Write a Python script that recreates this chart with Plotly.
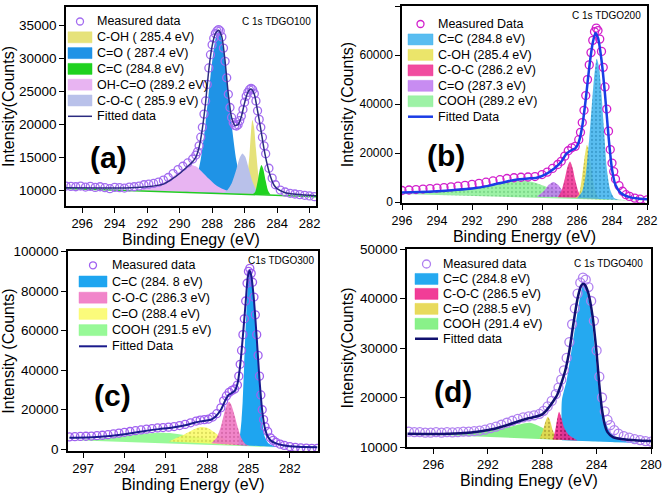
import plotly.graph_objects as go

FONT = "Arial, Liberation Sans, sans-serif"

# ---------------- (a) C 1s TDGO100 ----------------
a_meas = [(297.0, 10600), (296.7, 10550), (296.4, 10500), (296.1, 10600), (295.8, 10450), (295.5, 10550),
          (295.2, 10400), (294.9, 10500), (294.6, 10350), (294.3, 10200), (294.0, 10400), (293.7, 10350),
          (293.4, 10300), (293.1, 10450), (292.8, 10500), (292.5, 10600), (292.2, 10800), (291.9, 10900),
          (291.6, 11000), (291.3, 11200), (291.0, 11500), (290.7, 11900), (290.4, 12500), (290.1, 13100),
          (289.8, 13600), (289.5, 14100), (289.2, 14700), (289.0, 15300), (288.9, 15800), (288.8, 16700),
          (288.7, 18000), (288.6, 19500), (288.5, 21500), (288.4, 23500), (288.3, 26000), (288.2, 28500),
          (288.1, 30500), (288.0, 32000), (287.9, 33000), (287.8, 33700), (287.7, 34100), (287.6, 34300),
          (287.5, 34100), (287.4, 33200), (287.3, 31500), (287.2, 29500), (287.1, 27000), (287.0, 24500),
          (286.9, 22500), (286.8, 21000), (286.7, 20200), (286.6, 19800), (286.5, 19700), (286.4, 19900),
          (286.3, 20500), (286.2, 21200), (286.1, 22200), (286.0, 23300), (285.9, 24200), (285.8, 24800),
          (285.7, 25200), (285.6, 25400), (285.5, 25200), (285.4, 24600), (285.3, 23500), (285.2, 22000),
          (285.1, 20700), (285.0, 19500), (284.9, 18000), (284.8, 16700), (284.7, 15500), (284.5, 13300),
          (284.3, 11800), (284.1, 10800), (283.8, 10000), (283.5, 9700), (283.2, 9500), (282.9, 9400),
          (282.6, 9300), (282.3, 9200), (282.0, 9100), (281.7, 9000)]
a_fit = [(297.0, 10350), (295.0, 10300), (293.0, 10350), (292.0, 10500), (291.0, 10900), (290.5, 11600),
         (290.0, 12500), (289.5, 13600), (289.2, 14300), (289.0, 15000), (288.8, 16500), (288.6, 19300),
         (288.4, 23300), (288.2, 28300), (288.0, 31800), (287.8, 33700), (287.6, 34200), (287.4, 33200),
         (287.2, 29500), (287.0, 24500), (286.8, 21000), (286.6, 19800), (286.4, 19900), (286.2, 21100),
         (286.0, 23200), (285.8, 24800), (285.6, 25300), (285.4, 24500), (285.2, 22000), (285.0, 19200),
         (284.8, 16200), (284.6, 13800), (284.4, 12000), (284.2, 10800), (284.0, 10200), (283.5, 9600),
         (283.0, 9400), (282.0, 9200), (281.6, 9150)]
a_base = [(297.0, 10250), (281.6, 9000)]
a_coh = [(286.25, 9400), (286.0, 9900), (285.85, 11600), (285.7, 15300), (285.6, 18900), (285.52, 20600),
         (285.42, 19600), (285.3, 16200), (285.15, 12300), (285.0, 10200), (284.8, 9350)]
a_co = [(289.8, 9700), (289.4, 10000), (289.0, 11500), (288.7, 14650), (288.4, 20200), (288.1, 27250),
        (287.9, 31300), (287.75, 33300), (287.6, 34000), (287.45, 33200), (287.3, 31200), (287.1, 27100),
        (286.8, 20000), (286.5, 14400), (286.2, 11300), (285.8, 9900), (285.4, 9450)]
a_cc = [(285.5, 9350), (285.35, 9700), (285.2, 11200), (285.07, 13000), (284.96, 13800), (284.85, 13200),
        (284.7, 11400), (284.55, 9900), (284.4, 9300)]
a_ohco = [(293.0, 9950), (292.0, 10300), (291.2, 10900), (290.6, 11700), (290.1, 12600), (289.7, 13300),
          (289.35, 13800), (289.0, 13600), (288.6, 12700), (288.2, 11700), (287.8, 10800), (287.3, 10100),
          (286.8, 9700), (286.2, 9480)]
a_coc = [(287.4, 9500), (287.1, 9900), (286.8, 11000), (286.5, 13200), (286.3, 14900), (286.13, 15550),
         (285.95, 15000), (285.75, 13300), (285.5, 11200), (285.25, 9900), (285.0, 9400)]

# ---------------- (b) C 1s TDGO200 ----------------
b_meas = [(296.0, 4800), (295.6, 5000), (295.2, 5200), (294.8, 5400), (294.4, 5600), (294.0, 5800),
          (293.6, 6000), (293.2, 6300), (292.8, 6600), (292.4, 6900), (292.0, 7300), (291.6, 7700),
          (291.2, 8200), (290.8, 8700), (290.4, 9200), (290.0, 9700), (289.6, 10000), (289.2, 10200),
          (288.8, 10300), (288.4, 10500), (288.0, 11300), (287.7, 12300), (287.4, 13800), (287.1, 15400),
          (286.9, 16700), (286.7, 18800), (286.5, 21000), (286.3, 22200), (286.1, 22800), (285.9, 25500),
          (285.8, 28500), (285.7, 32500), (285.6, 37500), (285.5, 43500), (285.4, 50000), (285.3, 56000),
          (285.2, 61000), (285.1, 66000), (285.0, 69500), (284.9, 71000), (284.8, 70000), (284.7, 66500),
          (284.6, 61500), (284.5, 55000), (284.4, 47000), (284.3, 38000), (284.2, 29000), (284.1, 21500),
          (284.0, 16000), (283.9, 12500), (283.8, 9500), (283.6, 6800), (283.4, 4500), (283.2, 3100),
          (283.0, 2400), (282.7, 1700), (282.4, 1300), (282.0, 1000)]
b_fit = [(296.0, 4000), (295.0, 4200), (294.0, 4500), (293.0, 5000), (292.0, 5600), (291.0, 6800),
         (290.0, 8500), (289.3, 9400), (288.8, 9700), (288.3, 10000), (287.8, 11400), (287.3, 13800),
         (286.9, 16500), (286.6, 19800), (286.3, 21300), (286.1, 22000), (285.9, 24500), (285.7, 31000),
         (285.5, 42000), (285.3, 55000), (285.1, 65000), (284.95, 69000), (284.8, 67000), (284.6, 58000),
         (284.4, 44000), (284.2, 27000), (284.0, 13500), (283.8, 7000), (283.5, 3800), (283.0, 2100),
         (282.5, 1500), (282.0, 1200)]
b_cc = [(286.0, 1650), (285.7, 4500), (285.5, 11500), (285.3, 26000), (285.15, 40000), (285.0, 52500),
        (284.87, 58500), (284.75, 55500), (284.6, 44000), (284.45, 29000), (284.3, 14000), (284.1, 5000),
        (283.85, 1600), (283.5, 1000)]
b_coh = [(286.1, 1700), (285.9, 3000), (285.75, 8500), (285.6, 16500), (285.43, 23400), (285.25, 17500),
         (285.1, 9500), (284.9, 3500), (284.7, 1300), (284.5, 1100)]
b_coc = [(287.1, 2100), (286.9, 4500), (286.7, 9500), (286.55, 14300), (286.4, 16600), (286.25, 14000),
         (286.1, 9000), (285.9, 4000), (285.7, 1800)]
b_co = [(288.3, 2300), (287.9, 4500), (287.6, 7200), (287.35, 8300), (287.1, 7200), (286.8, 4500),
        (286.5, 2200)]
b_cooh = [(296.0, 3350), (294.5, 3900), (293.0, 4700), (292.0, 5600), (291.0, 6800), (290.2, 7900),
          (289.6, 8500), (289.1, 8800), (288.6, 8400), (288.1, 7300), (287.6, 6000), (287.0, 4500),
          (286.4, 3200), (285.6, 2200), (284.5, 1400), (283.5, 1000), (282.0, 550)]

# ---------------- (c) C1s TDGO300 ----------------
c_meas = [(298.0, 6300), (297.6, 6400), (297.2, 6500), (296.8, 6600), (296.4, 6700), (296.0, 6900),
          (295.6, 7100), (295.2, 7400), (294.8, 7800), (294.4, 8200), (294.0, 8600), (293.6, 9000),
          (293.2, 9400), (292.8, 9800), (292.4, 10200), (292.0, 10500), (291.6, 10800), (291.2, 11000),
          (290.8, 11200), (290.4, 11500), (290.0, 12000), (289.6, 12600), (289.2, 13400), (288.8, 14300),
          (288.5, 14800), (288.2, 15000), (287.9, 15300), (287.6, 16300), (287.3, 18000), (287.0, 21000),
          (286.8, 24500), (286.6, 27000), (286.4, 28800), (286.2, 29800), (286.0, 30500), (285.8, 32500),
          (285.7, 37000), (285.6, 43000), (285.5, 50000), (285.4, 58000), (285.3, 66000), (285.2, 75000),
          (285.1, 84000), (285.0, 90000), (284.9, 91500), (284.8, 89000), (284.7, 84500), (284.6, 77000),
          (284.5, 68000), (284.4, 58000), (284.3, 47500), (284.2, 37000), (284.1, 27500), (284.0, 20000),
          (283.9, 15000), (283.8, 11500), (283.6, 9000), (283.4, 5800), (283.2, 4500), (283.0, 3500),
          (282.7, 2600), (282.4, 2000), (282.0, 1400), (281.6, 1000), (281.2, 700), (280.8, 600),
          (280.4, 500), (280.0, 500)]
c_fit = [(298.0, 5800), (296.0, 6200), (294.0, 7600), (292.5, 9300), (291.5, 10200), (290.5, 11000),
         (289.5, 12300), (288.8, 13700), (288.3, 14300), (287.8, 14800), (287.4, 16500), (287.0, 20000),
         (286.7, 24500), (286.45, 27500), (286.2, 28500), (286.0, 29500), (285.8, 33000), (285.6, 42500),
         (285.4, 57500), (285.2, 74500), (285.05, 87000), (284.92, 90500), (284.8, 88000), (284.6, 75500),
         (284.4, 56500), (284.2, 35500), (284.0, 19500), (283.8, 10500), (283.6, 6500), (283.3, 4000),
         (283.0, 3000), (282.5, 2000), (282.0, 1500), (281.0, 1200), (280.0, 1000)]
c_cc = [(285.75, 2200), (285.6, 8000), (285.5, 15000), (285.42, 24000), (285.31, 42500), (285.16, 67800),
        (285.02, 84600), (284.9, 90500), (284.75, 86300), (284.58, 72800), (284.38, 52600), (284.19, 32400),
        (284.02, 17200), (283.85, 7100), (283.53, 2900), (282.9, 1200), (282.3, 900)]
c_coc = [(287.7, 3000), (287.3, 6000), (287.0, 11500), (286.75, 18500), (286.55, 22800), (286.4, 24000),
         (286.25, 22500), (286.0, 17000), (285.75, 10500), (285.5, 5500), (285.2, 2600), (284.9, 1700)]
c_co = [(290.8, 3900), (290.2, 5800), (289.6, 7800), (289.0, 10000), (288.5, 11300), (288.0, 10900),
        (287.5, 8800), (287.0, 6300), (286.5, 4300), (286.0, 2800), (285.5, 2000)]
c_cooh = [(298.1, 4650), (296.5, 5000), (295.0, 5700), (293.8, 6800), (292.8, 7800), (291.8, 8300),
          (290.8, 8200), (289.8, 7400), (288.8, 6200), (287.8, 4900), (286.8, 3700), (285.5, 2600),
          (284.0, 1600), (282.5, 900), (281.0, 500), (280.0, 300)]

# ---------------- (d) C 1s TDGO400 ----------------
d_meas = [(297.8, 13100), (297.4, 13000), (297.0, 13000), (296.6, 12900), (296.2, 12900), (295.8, 13000),
          (295.4, 12900), (295.0, 13000), (294.6, 12950), (294.2, 13000), (293.8, 13100), (293.4, 13100),
          (293.0, 13200), (292.6, 13300), (292.2, 13500), (291.8, 13800), (291.4, 14100), (291.0, 14500),
          (290.6, 14900), (290.2, 15300), (289.8, 15700), (289.4, 16000), (289.0, 16200), (288.6, 16400),
          (288.2, 16700), (287.9, 17300), (287.6, 18200), (287.3, 19300), (287.0, 20700), (286.8, 22000),
          (286.6, 23600), (286.4, 25500), (286.2, 28000), (286.0, 31200), (285.8, 34800), (285.6, 38000),
          (285.4, 41000), (285.2, 43200), (285.0, 44200), (284.8, 43800), (284.6, 42300), (284.4, 39500),
          (284.2, 35500), (284.0, 29500), (283.8, 24200), (283.6, 20000), (283.4, 17200), (283.2, 15500),
          (283.0, 14400), (282.7, 13400), (282.4, 12700), (282.0, 12200), (281.6, 11900), (281.2, 11600),
          (280.8, 11400), (280.4, 11200), (280.0, 11100)]
d_fit = [(297.9, 12700), (296.0, 12650), (294.0, 12800), (292.5, 13200), (291.5, 13700), (290.5, 14500),
         (289.5, 15400), (289.0, 15800), (288.5, 16100), (288.0, 16600), (287.6, 17700), (287.2, 19200),
         (286.9, 20500), (286.6, 22800), (286.3, 25500), (286.0, 29500), (285.7, 35000), (285.4, 40000),
         (285.15, 42500), (285.0, 43000), (284.85, 42700), (284.6, 41000), (284.3, 36500), (284.0, 29000),
         (283.8, 22500), (283.6, 17500), (283.4, 14500), (283.2, 13000), (282.8, 12000), (282.2, 11600),
         (281.0, 11300), (280.0, 11200)]
d_cc = [(286.55, 11340), (286.55, 19500), (286.2, 23500), (285.8, 30300), (285.45, 36400), (285.2, 40500),
        (285.0, 42700), (284.8, 42200), (284.6, 40000), (284.4, 37000), (284.1, 29000), (283.75, 20500),
        (283.4, 15500), (283.0, 13000), (282.5, 11900), (282.0, 11300), (281.0, 10800)]
d_coc = [(287.2, 11500), (287.0, 14000), (286.85, 16300), (286.76, 17100), (286.6, 16000), (286.4, 14000),
         (286.2, 13000), (286.0, 12300), (285.7, 11800), (285.4, 11300)]
d_co = [(288.2, 11700), (287.95, 13300), (287.75, 15200), (287.58, 16100), (287.42, 15300), (287.25, 13600),
        (287.05, 12300), (286.8, 11400)]
d_cooh = [(297.9, 12700), (296.0, 12600), (294.0, 12800), (292.5, 13100), (291.5, 13500), (290.5, 14000),
          (289.6, 14600), (288.9, 14900), (288.2, 14200), (287.5, 13200), (286.8, 12300), (286.0, 11700),
          (285.0, 11300), (284.0, 11150), (282.5, 10950), (281.0, 10800), (280.0, 10700)]

W, H = 662, 496


def unzip(pairs):
    return [p[0] for p in pairs], [p[1] for p in pairs]


fig = go.Figure()
shapes = []
ann = []


def px(x, y):
    return x / W, 1 - y / H


def add_comp(pairs, name, color, n, dots=None):
    e, i = unzip(pairs)
    sfx = "" if n == 1 else str(n)
    kw = {}
    if dots:
        kw["fillpattern"] = dict(shape=".", fgcolor=dots, size=4, solidity=0.25, fillmode="overlay")
    fig.add_trace(go.Scatter(x=e, y=i, mode="lines", fill="toself", fillcolor=color,
                             line=dict(width=0, shape="spline", smoothing=0.7, color=color),
                             name=name, xaxis="x" + sfx, yaxis="y" + sfx, hoverinfo="skip", **kw))


def add_meas(pairs, name, color, n, size):
    e, i = unzip(pairs)
    sfx = "" if n == 1 else str(n)
    fig.add_trace(go.Scatter(x=e, y=i, mode="markers", name=name,
                             marker=dict(symbol="circle-open", size=size, color=color, line=dict(width=1.3)),
                             xaxis="x" + sfx, yaxis="y" + sfx))


def add_fit(pairs, name, color, n, width):
    e, i = unzip(pairs)
    sfx = "" if n == 1 else str(n)
    fig.add_trace(go.Scatter(x=e, y=i, mode="lines", name=name,
                             line=dict(color=color, width=width, shape="spline", smoothing=0.6),
                             xaxis="x" + sfx, yaxis="y" + sfx))


def key(entries, sx0, sx1, tx, y0, dy):
    # hand-made legend: the reference rows are tighter than plotly's legend allows
    for k, (kind, label, color, w) in enumerate(entries):
        yc = y0 + k * dy
        if kind == "marker":
            cx = (sx0 + sx1) / 2
            xa, ya = px(cx - w / 2, yc - w / 2)
            xb, yb = px(cx + w / 2, yc + w / 2)
            shapes.append(dict(type="circle", xref="paper", yref="paper", x0=xa, x1=xb, y0=yb, y1=ya,
                               line=dict(color=color, width=1.3)))
        elif kind == "fill":
            xa, ya = px(sx0, yc - 5.5)
            xb, yb = px(sx1, yc + 5.5)
            shapes.append(dict(type="rect", xref="paper", yref="paper", x0=xa, x1=xb, y0=yb, y1=ya,
                               fillcolor=color, line=dict(color=color, width=0.5)))
        else:
            xa, ya = px(sx0, yc)
            xb, _ = px(sx1, yc)
            shapes.append(dict(type="line", xref="paper", yref="paper", x0=xa, x1=xb, y0=ya, y1=ya,
                               line=dict(color=color, width=w)))
        lx, ly = px(tx, yc)
        ann.append(dict(text=label, x=lx, y=ly, xref="paper", yref="paper", xanchor="left",
                        yanchor="middle", showarrow=False, font=dict(size=12.5, color="black", family=FONT)))


# (a)
A_CO, A_OHCO, A_COH, A_COC, A_CC = "#1f93e6", "#e8b4f2", "#e6e27a", "#b9c1ea", "#1fd21f"
add_comp(a_co, "C=O ( 287.4 eV)", A_CO, 1)
add_comp(a_ohco, "OH-C=O (289.2 eV)", A_OHCO, 1)
add_comp(a_coh, "C-OH ( 285.4 eV)", A_COH, 1)
add_comp(a_coc, "C-O-C ( 285.9 eV)", A_COC, 1)
add_comp(a_cc, "C=C (284.8 eV)", A_CC, 1)
be, bi = unzip(a_base)
fig.add_trace(go.Scatter(x=be, y=bi, mode="lines", line=dict(color="#22cc22", width=1.5),
                         xaxis="x", yaxis="y", hoverinfo="skip"))
add_meas(a_meas, "Measured data", "#a36cf0", 1, 8)
add_fit(a_fit, "Fitted data", "#2b2b80", 1, 1.5)
key([("marker", "Measured data", "#a36cf0", 7), ("fill", "C-OH ( 285.4 eV)", A_COH, 0),
     ("fill", "C=O ( 287.4 eV)", A_CO, 0), ("fill", "C=C (284.8 eV)", A_CC, 0),
     ("fill", "OH-C=O (289.2 eV)", A_OHCO, 0), ("fill", "C-O-C ( 285.9 eV)", A_COC, 0),
     ("line", "Fitted data", "#2b2b80", 1.5)], 68, 92, 95, 21.5, 15.8)

# (b)
B_COOH, B_CO, B_COC, B_COH, B_CC = ("rgba(140,240,150,0.85)", "rgba(190,120,240,0.85)", "rgba(240,55,150,0.9)",
                                    "rgba(232,224,80,0.85)", "rgba(60,178,238,0.85)")
add_comp(b_cooh, "COOH (289.2 eV)", B_COOH, 2, "#60c070")
add_comp(b_co, "C=O (287.3 eV)", B_CO, 2, "#8050b0")
add_comp(b_coc, "C-O-C (286.2 eV)", B_COC, 2, "#b02070")
add_comp(b_coh, "C-OH (285.4 eV)", B_COH, 2, "#a09a30")
add_comp(b_cc, "C=C (284.8 eV)", B_CC, 2, "#2080b0")
add_meas(b_meas, "Measured Data", "#d21ecc", 2, 8)
add_fit(b_fit, "Fitted Data", "#1a3ce6", 2, 2.5)
key([("marker", "Measured Data", "#d21ecc", 7), ("fill", "C=C (284.8 eV)", B_CC, 0),
     ("fill", "C-OH (285.4 eV)", B_COH, 0), ("fill", "C-O-C (286.2 eV)", B_COC, 0),
     ("fill", "C=O (287.3 eV)", B_CO, 0), ("fill", "COOH (289.2 eV)", B_COOH, 0),
     ("line", "Fitted Data", "#1a3ce6", 2.5)], 408, 433, 436, 24, 15.45)

# (c)
C_COOH, C_CO, C_CC, C_COC = "rgba(140,248,140,0.9)", "rgba(250,250,100,0.85)", "#1ea5f0", "rgba(240,120,196,0.9)"
add_comp(c_cooh, "COOH (291.5 eV)", C_COOH, 3)
add_comp(c_co, "C=O (288.4 eV)", C_CO, 3, "#c0c040")
add_comp(c_cc, "C=C (284. 8 eV)", C_CC, 3)
add_comp(c_coc, "C-O-C (286.3 eV)", C_COC, 3, "#c05090")
add_meas(c_meas, "Measured data", "#a060f0", 3, 8)
add_fit(c_fit, "Fitted Data", "#1a1a8c", 3, 2)
key([("marker", "Measured data", "#a060f0", 7), ("fill", "C=C (284. 8 eV)", C_CC, 0),
     ("fill", "C-O-C (286.3 eV)", C_COC, 0), ("fill", "C=O (288.4 eV)", C_CO, 0),
     ("fill", "COOH (291.5 eV)", C_COOH, 0), ("line", "Fitted Data", "#1a1a8c", 2)], 79, 107, 110, 265.3, 16.2)

# (d)
D_COOH, D_CO, D_CC, D_COC = "rgba(124,240,124,0.9)", "rgba(230,214,74,0.9)", "#25a9f0", "rgba(240,40,140,0.9)"
add_comp(d_cooh, "COOH (291.4 eV)", D_COOH, 4)
add_comp(d_co, "C=O (288.5 eV)", D_CO, 4, "#908020")
add_comp(d_cc, "C=C (284.8 eV)", D_CC, 4)
add_comp(d_coc, "C-O-C (286.5 eV)", D_COC, 4, "#700040")
add_meas(d_meas, "Measured data", "#b080f0", 4, 9)
add_fit(d_fit, "Fitted data", "#10106e", 4, 2.5)
key([("marker", "Measured data", "#b080f0", 8), ("fill", "C=C (284.8 eV)", D_CC, 0),
     ("fill", "C-O-C (286.5 eV)", D_COC, 0), ("fill", "C=O (288.5 eV)", D_CO, 0),
     ("fill", "COOH (291.4 eV)", D_COOH, 0), ("line", "Fitted data", "#10106e", 2.5)], 415, 438, 441, 264, 14.95)


def xd(l, r):
    return [l / W, r / W]


def yd(t, b):
    return [1 - b / H, 1 - t / H]


def axis(domain, rng, ticks, title, standoff, anchor, tsize=13):
    return dict(domain=domain, range=rng, tickvals=ticks, anchor=anchor, automargin=False,
                showline=True, linecolor="black", linewidth=1.5, mirror=True,
                ticks="outside", ticklen=5, tickwidth=1.3, tickcolor="black", tickformat="d",
                showgrid=False, zeroline=False,
                tickfont=dict(size=tsize, color="black", family=FONT),
                title=dict(text=title, standoff=standoff, font=dict(size=16, color="black", family=FONT)))


layout = dict(width=W, height=H, margin=dict(l=0, r=0, t=0, b=0),
              paper_bgcolor="white", plot_bgcolor="white", font=dict(family=FONT, color="black"),
              showlegend=False)

layout["xaxis"] = axis(xd(66, 316), [297.0, 281.6], [296, 294, 292, 290, 288, 286, 284, 282], "Binding Enegy (eV)", 0, "y")
layout["yaxis"] = axis(yd(7, 206), [7580, 37730], [10000, 15000, 20000, 25000, 30000, 35000], "Intensity(Counts)", 4, "x", 13.5)
layout["xaxis2"] = axis(xd(402, 647), [296, 282], [296, 294, 292, 290, 288, 286, 284, 282], "Binding Energy (eV)", 1, "y2", 12.5)
layout["yaxis2"] = axis(yd(6, 203), [-290, 80000], [0, 20000, 40000, 60000, 80000], "Intensity (Counts)", 2, "x2", 12)
layout["xaxis3"] = axis(xd(68, 318), [298.1, 279.95], [297, 294, 291, 288, 285, 282], "Binding Energy (eV)", 0, "y3")
layout["yaxis3"] = axis(yd(251, 451), [-860, 100300], [0, 20000, 40000, 60000, 80000, 100000], "Intensity (Counts)", 2, "x3", 13.5)
layout["xaxis4"] = axis(xd(407, 651), [297.94, 280], [296, 292, 288, 284, 280], "Binding Enegy (eV)", 0, "y4")
layout["yaxis4"] = axis(yd(249, 447), [10000, 50000], [10000, 20000, 30000, 40000, 50000], "Intensity(Counts)", 2, "x4", 13.5)

for txt, x, y in [("(a)", 108, 157), ("(b)", 446, 155), ("(c)", 112, 395), ("(d)", 453, 391)]:
    lx, ly = px(x, y)
    ann.append(dict(text="<b>%s</b>" % txt, x=lx, y=ly, xref="paper", yref="paper",
                    xanchor="center", yanchor="middle",
                    showarrow=False, font=dict(size=30, color="black", family=FONT)))
for txt, x, y in [("C 1s TDGO100", 276, 21), ("C 1s TDGO200", 606, 15),
                  ("C1s TDGO300", 281, 260), ("C 1s TDGO400", 608, 263)]:
    lx, ly = px(x, y)
    ann.append(dict(text=txt, x=lx, y=ly, xref="paper", yref="paper",
                    xanchor="center", yanchor="middle",
                    showarrow=False, font=dict(size=10, color="black", family=FONT)))
layout["annotations"] = ann
layout["shapes"] = shapes

fig.update_layout(**layout)
# the page's default 8px body margin would push the fixed-size figure off the window
fig.write_html("out.html", config={"displayModeBar": False},
               post_script="document.body.style.margin='0px';")
